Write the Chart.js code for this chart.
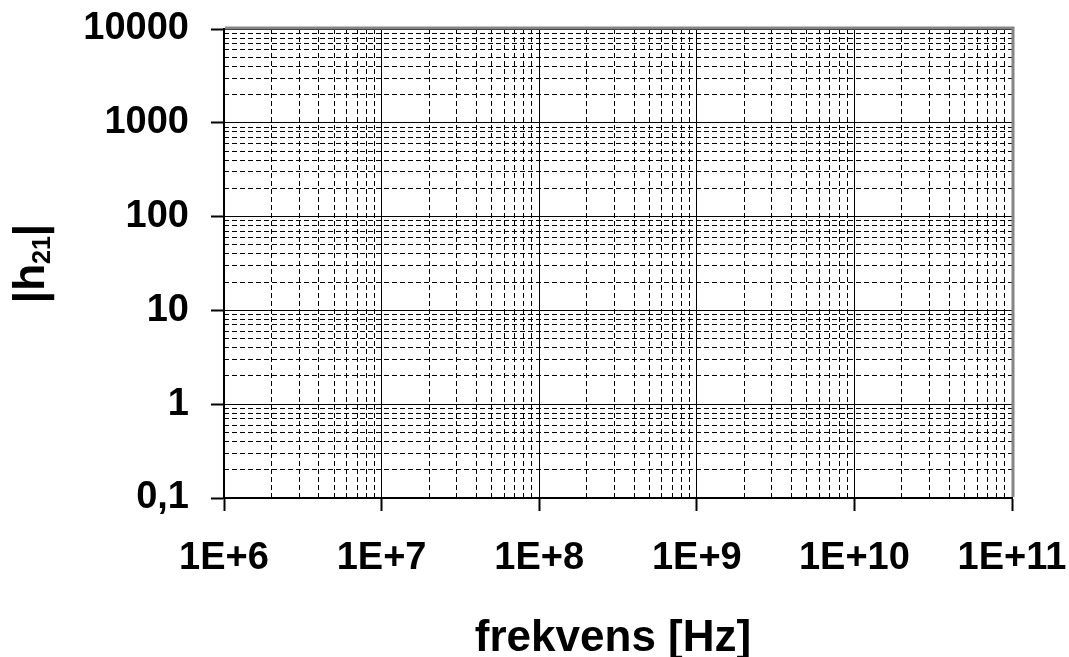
<!DOCTYPE html>
<html>
<head>
<meta charset="utf-8">
<script src="https://cdn.jsdelivr.net/npm/chart.js@4.4.1/dist/chart.umd.min.js"></script>
<style>
  html, body { margin: 0; padding: 0; background: #fff; overflow: hidden; }
  #wrap { width: 1069px; height: 657px; }
</style>
</head>
<body>
<div id="wrap"><canvas id="c" width="1069" height="657"></canvas></div>
<script>
// Frequency axis (Hz): decades and their labels
const freqDecades = [1e6, 1e7, 1e8, 1e9, 1e10, 1e11];
const freqTickLabels = ['1E+6', '1E+7', '1E+8', '1E+9', '1E+10', '1E+11'];

// |h21| axis: decades and their labels
const gainDecades = [0.1, 1, 10, 100, 1000, 10000];
const gainTickLabels = ['0,1', '1', '10', '100', '1000', '10000'];

// Minor grid steps inside each decade
const minorSteps = [2, 3, 4, 5, 6, 7, 8, 9];

// Measured |h21| versus frequency, to be filled in on the blank grid
const h21Points = [];

const FONT = 'Liberation Sans, Arial, sans-serif';

function minorValues(decades) {
  const out = [];
  decades.slice(0, -1).forEach(d => minorSteps.forEach(s => out.push(d * s)));
  return out;
}

function labelFor(values, labels) {
  return v => {
    const i = values.findIndex(d => Math.abs(d - v) / d < 1e-9);
    return i >= 0 ? labels[i] : '';
  };
}

// Fixed box sizes so the plot area sits where the page layout expects it
function fixBox(size, horizontal) {
  return s => {
    if (horizontal) s.height = size; else s.width = size;
    s.paddingTop = 0; s.paddingBottom = 0; s.paddingLeft = 0; s.paddingRight = 0;
  };
}

// Gray plot-area frame on top and right, axis titles
const frameAndTitles = {
  id: 'frameAndTitles',
  beforeDatasetsDraw(chart) {
    const { ctx, chartArea: a } = chart;
    ctx.save();
    ctx.strokeStyle = '#858585';
    ctx.lineWidth = 3;
    ctx.beginPath();
    ctx.moveTo(a.left + 1, a.top - 1);
    ctx.lineTo(a.right + 1, a.top - 1);
    ctx.lineTo(a.right + 1, a.bottom - 1);
    ctx.stroke();
    ctx.restore();
  },
  afterDraw(chart) {
    const { ctx, chartArea: a } = chart;
    ctx.save();
    ctx.fillStyle = '#000';

    // x title
    ctx.font = 'bold 44px ' + FONT;
    ctx.textAlign = 'center';
    ctx.textBaseline = 'alphabetic';
    ctx.fillText('frekvens [Hz]', (a.left + a.right) / 2 - 5, 651);

    // y title |h21| with subscript, rotated
    const big = 'bold 44px ' + FONT;
    const small = 'bold 25px ' + FONT;
    ctx.font = big;
    const w1 = ctx.measureText('|h').width;
    const w3 = ctx.measureText('|').width;
    ctx.font = small;
    const w2 = ctx.measureText('21').width;
    const total = w1 + w2 + w3;
    ctx.translate(44, (a.top + a.bottom) / 2);
    ctx.rotate(-Math.PI / 2);
    ctx.textAlign = 'left';
    let x = -total / 2;
    ctx.font = big;
    ctx.fillText('|h', x, 0);
    x += w1;
    ctx.font = small;
    ctx.fillText('21', x, 6);
    x += w2;
    ctx.font = big;
    ctx.fillText('|', x, 0);
    ctx.restore();
  }
};

const tickFont = { family: FONT, size: 38, weight: 'bold' };

new Chart(document.getElementById('c'), {
  type: 'scatter',
  data: {
    datasets: [{
      data: h21Points,
      xAxisID: 'x',
      yAxisID: 'y',
      borderColor: '#000',
      backgroundColor: '#000',
      showLine: true
    }]
  },
  options: {
    responsive: false,
    animation: false,
    devicePixelRatio: 1,
    layout: { padding: { top: 29, right: 57, left: 0, bottom: 0 } },
    plugins: { legend: { display: false }, tooltip: { enabled: false } },
    scales: {
      xMinor: {
        type: 'logarithmic',
        position: 'bottom',
        min: freqDecades[0],
        max: freqDecades[freqDecades.length - 1],
        afterBuildTicks: s => { s.ticks = minorValues(freqDecades).map(v => ({ value: v })); },
        afterFit: fixBox(0, true),
        ticks: { display: false },
        grid: { color: '#000', lineWidth: 1, drawTicks: false },
        border: { display: false, dash: [5, 3] }
      },
      yMinor: {
        type: 'logarithmic',
        position: 'left',
        min: gainDecades[0],
        max: gainDecades[gainDecades.length - 1],
        afterBuildTicks: s => { s.ticks = minorValues(gainDecades).map(v => ({ value: v })); },
        afterFit: fixBox(0, false),
        ticks: { display: false },
        grid: { color: '#000', lineWidth: 1, drawTicks: false },
        border: { display: false, dash: [5, 3] }
      },
      x: {
        type: 'logarithmic',
        position: 'bottom',
        min: freqDecades[0],
        max: freqDecades[freqDecades.length - 1],
        afterBuildTicks: s => { s.ticks = freqDecades.map(v => ({ value: v, major: true })); },
        afterFit: fixBox(159, true),
        ticks: {
          autoSkip: false, maxRotation: 0, minRotation: 0,
          padding: 25, color: '#000', font: tickFont,
          callback: labelFor(freqDecades, freqTickLabels)
        },
        grid: { color: '#000', lineWidth: 1, drawTicks: true, tickLength: 13, tickColor: '#000', tickWidth: 2 },
        border: { display: true, color: '#000', width: 2 }
      },
      y: {
        type: 'logarithmic',
        position: 'left',
        min: gainDecades[0],
        max: gainDecades[gainDecades.length - 1],
        afterBuildTicks: s => { s.ticks = gainDecades.map(v => ({ value: v, major: true })); },
        afterFit: fixBox(224, false),
        ticks: {
          autoSkip: false,
          padding: 22, color: '#000', font: tickFont,
          callback: labelFor(gainDecades, gainTickLabels)
        },
        grid: { color: '#000', lineWidth: 1, drawTicks: true, tickLength: 13, tickColor: '#000', tickWidth: 2 },
        border: { display: true, color: '#000', width: 2 }
      }
    }
  },
  plugins: [frameAndTitles]
});
</script>
</body>
</html>
